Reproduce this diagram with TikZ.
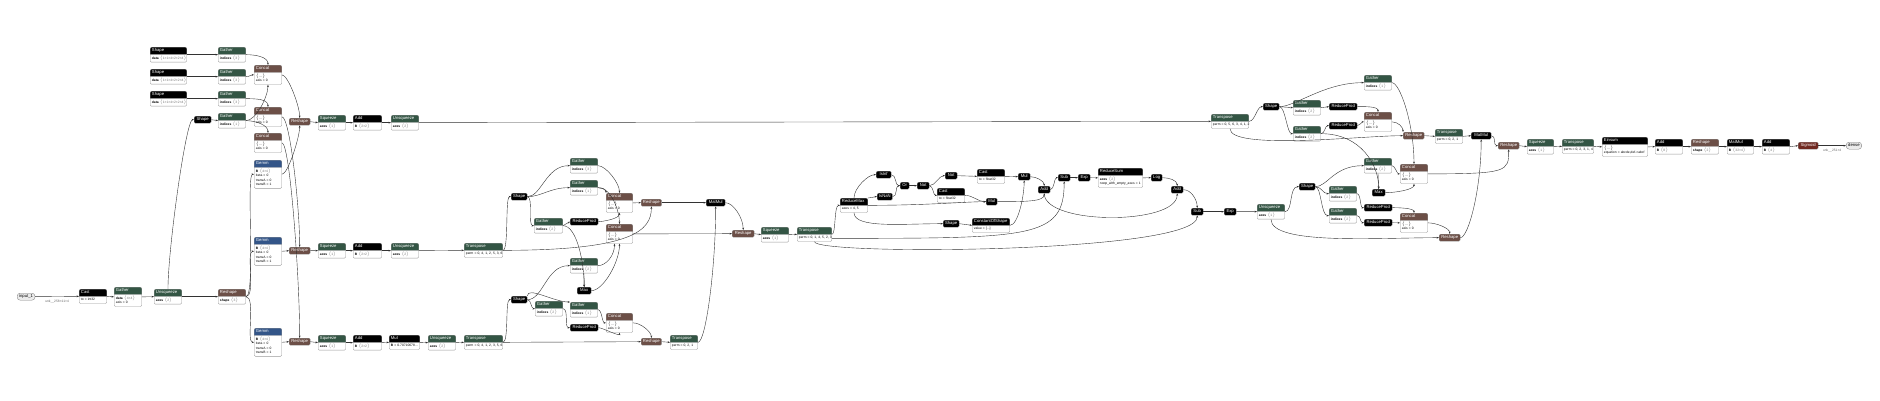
\documentclass[tikz,border=0pt]{standalone}
\usepackage{fontspec}
\setmainfont{Liberation Sans}
\usetikzlibrary{shapes.multipart}
\usetikzlibrary{arrows.meta}

\definecolor{tfgreen}{RGB}{51,85,68}
\definecolor{shbrown}{RGB}{108,79,71}
\definecolor{lyblue}{RGB}{51,85,136}
\definecolor{actred}{RGB}{112,41,33}

\newcommand{\hdr}[1]{{\fontsize{4.2}{4.8}\selectfont\color{white}\strut#1}}
\newcommand{\inp}[2]{\strut\mbox{\textbf{#1} {\color{black!55}$\langle$#2$\rangle$}}}
\newcommand{\atr}[1]{\strut\mbox{#1}}

\tikzset{
	op/.style 2 args={rectangle split, rectangle split parts=2, rectangle split part fill={#1,white},
		draw=black!40, line width=0.35pt, rounded corners=1.2pt, inner xsep=1.8pt, inner ysep=1.1pt,
		anchor=north west, text width=#2, align=left, font=\fontsize{3.3}{4.4}\selectfont},
	hop/.style 2 args={draw=black!40, fill=#1, line width=0.35pt, rounded corners=1.2pt,
		inner xsep=1.8pt, inner ysep=1.1pt, anchor=north west, minimum width=#2},
	io/.style={draw=black!50, fill=black!8, line width=0.35pt, rounded corners=3pt, inner xsep=2pt,
		inner ysep=1.1pt, anchor=north west, font=\fontsize{4.2}{4.8}\selectfont},
	conn/.style={draw=black!80, line width=0.4pt, -{Stealth[length=2.4pt,width=1.8pt]}},
	lbl/.style={font=\fontsize{3.3}{4}\selectfont, text=black!60, inner sep=0pt}
}

\begin{document}
\begin{tikzpicture}[x=1pt,y=-1pt]
	\useasboundingbox (0,0) rectangle (1880,400);

%% Input chain
	\node[io] (input1) at (17,293) {\strut input\_1};
	\node[op={black}{24pt}] (cast0) at (79,289) {\hdr{Cast}\nodepart{two}\atr{to = int32}};
	\node[op={tfgreen}{24pt}] (gather0) at (114,287) {\hdr{Gather}\nodepart{two}\inp{data}{4×4}\\\atr{axis = 0}};
	\node[op={tfgreen}{24pt}] (unsq0) at (154,289) {\hdr{Unsqueeze}\nodepart{two}\inp{axes}{2}};
	\node[op={shbrown}{24pt}] (reshape0) at (218,289) {\hdr{Reshape}\nodepart{two}\inp{shape}{3}};

%% Shape / Gather / Concat
	\node[op={black}{33pt}] (shape1) at (150,47) {\hdr{Shape}\nodepart{two}\inp{data}{1×1×4×2×2×4}};
	\node[op={black}{33pt}] (shape2) at (150,69) {\hdr{Shape}\nodepart{two}\inp{data}{1×1×4×2×2×4}};
	\node[op={black}{33pt}] (shape3) at (150,91) {\hdr{Shape}\nodepart{two}\inp{data}{1×1×4×2×2×4}};
	\node[hop={black}{17pt}] (shape4) at (194,116) {\hdr{Shape}};
	\node[op={tfgreen}{24pt}] (gather1) at (218,47) {\hdr{Gather}\nodepart{two}\inp{indices}{3}};
	\node[op={tfgreen}{24pt}] (gather2) at (218,69) {\hdr{Gather}\nodepart{two}\inp{indices}{3}};
	\node[op={tfgreen}{24pt}] (gather3) at (218,91) {\hdr{Gather}\nodepart{two}\inp{indices}{3}};
	\node[op={tfgreen}{24pt}] (gather4) at (218,113) {\hdr{Gather}\nodepart{two}\inp{indices}{1}};
	\node[op={shbrown}{24pt}] (concat1) at (254,65) {\hdr{Concat}\nodepart{two}\atr{$\langle$…$\rangle$}\\\atr{axis = 0}};
	\node[op={shbrown}{24pt}] (concat2) at (254,107) {\hdr{Concat}\nodepart{two}\atr{$\langle$…$\rangle$}\\\atr{axis = 0}};
	\node[op={shbrown}{24pt}] (concat3) at (254,133) {\hdr{Concat}\nodepart{two}\atr{$\langle$…$\rangle$}\\\atr{axis = 0}};

%% Gemm
	\node[op={lyblue}{24pt}] (gemm1) at (254,160) {\hdr{Gemm}\nodepart{two}\inp{B}{4×4}\\\atr{beta = 0}\\\atr{transA = 0}\\\atr{transB = 1}};
	\node[op={lyblue}{24pt}] (gemm2) at (254,237) {\hdr{Gemm}\nodepart{two}\inp{B}{4×4}\\\atr{beta = 0}\\\atr{transA = 0}\\\atr{transB = 1}};
	\node[op={lyblue}{24pt}] (gemm3) at (254,328) {\hdr{Gemm}\nodepart{two}\inp{B}{4×4}\\\atr{beta = 0}\\\atr{transA = 0}\\\atr{transB = 1}};
	\node[hop={shbrown}{21pt}] (reshapeA) at (289,118) {\hdr{Reshape}};
	\node[hop={shbrown}{21pt}] (reshapeB) at (289,247) {\hdr{Reshape}};
	\node[hop={shbrown}{21pt}] (reshapeC) at (289,338) {\hdr{Reshape}};

%% Q K V rows
	\node[op={tfgreen}{24pt}] (squeezeA) at (318,115) {\hdr{Squeeze}\nodepart{two}\inp{axes}{1}};
	\node[op={black}{25pt}] (addA) at (353,115) {\hdr{Add}\nodepart{two}\inp{B}{2×2}};
	\node[op={tfgreen}{24pt}] (unsqA) at (391,115) {\hdr{Unsqueeze}\nodepart{two}\inp{axes}{2}};
	\node[op={tfgreen}{24pt}] (squeezeB) at (318,243) {\hdr{Squeeze}\nodepart{two}\inp{axes}{1}};
	\node[op={black}{25pt}] (addB) at (353,243) {\hdr{Add}\nodepart{two}\inp{B}{2×2}};
	\node[op={tfgreen}{24pt}] (unsqB) at (391,243) {\hdr{Unsqueeze}\nodepart{two}\inp{axes}{2}};
	\node[op={tfgreen}{35pt}] (transB) at (464,243) {\hdr{Transpose}\nodepart{two}\atr{perm = 0, 4, 1, 2, 5, 3, 6}};
	\node[op={tfgreen}{24pt}] (squeezeC) at (318,335) {\hdr{Squeeze}\nodepart{two}\inp{axes}{1}};
	\node[op={black}{25pt}] (addC) at (353,335) {\hdr{Add}\nodepart{two}\inp{B}{2×2}};
	\node[op={black}{27pt}] (mulC) at (389,335) {\hdr{Mul}\nodepart{two}\atr{\textbf{B} = 0.70710678…}};
	\node[op={tfgreen}{24pt}] (unsqC) at (428,335) {\hdr{Unsqueeze}\nodepart{two}\inp{axes}{2}};
	\node[op={tfgreen}{35pt}] (transC) at (464,335) {\hdr{Transpose}\nodepart{two}\atr{perm = 0, 4, 1, 2, 3, 5, 6}};

%% Upper reshape block
	\node[hop={black}{16pt}] (shapeU) at (511,193) {\hdr{Shape}};
	\node[op={tfgreen}{24pt}] (gatherUa) at (570,158) {\hdr{Gather}\nodepart{two}\inp{indices}{3}};
	\node[op={tfgreen}{24pt}] (gatherUb) at (570,180) {\hdr{Gather}\nodepart{two}\inp{indices}{1}};
	\node[op={tfgreen}{25pt}] (gatherUc) at (534,218) {\hdr{Gather}\nodepart{two}\inp{indices}{2}};
	\node[hop={black}{28pt}] (prodU) at (570,218) {\hdr{ReduceProd}};
	\node[op={shbrown}{23pt}] (concatUa) at (606,193) {\hdr{Concat}\nodepart{two}\atr{$\langle$…$\rangle$}\\\atr{axis = 0}};
	\node[op={shbrown}{23pt}] (concatUb) at (606,224) {\hdr{Concat}\nodepart{two}\atr{$\langle$…$\rangle$}\\\atr{axis = 0}};
	\node[hop={shbrown}{19pt}] (reshapeU) at (641,199) {\hdr{Reshape}};

%% Lower reshape block
	\node[op={tfgreen}{24pt}] (gatherLd) at (570,258) {\hdr{Gather}\nodepart{two}\inp{indices}{2}};
	\node[hop={black}{14pt}] (maxL) at (577,287) {\hdr{Max}};
	\node[hop={black}{16pt}] (shapeL) at (511,296) {\hdr{Shape}};
	\node[op={tfgreen}{24pt}] (gatherLe) at (535,301) {\hdr{Gather}\nodepart{two}\inp{indices}{2}};
	\node[op={tfgreen}{24pt}] (gatherLf) at (570,302) {\hdr{Gather}\nodepart{two}\inp{indices}{1}};
	\node[hop={black}{28pt}] (prodL) at (570,324) {\hdr{ReduceProd}};
	\node[op={shbrown}{23pt}] (concatLc) at (606,313) {\hdr{Concat}\nodepart{two}\atr{$\langle$…$\rangle$}\\\atr{axis = 0}};
	\node[hop={shbrown}{19pt}] (reshapeL) at (641,338) {\hdr{Reshape}};

%% Scores and masking
	\node[op={tfgreen}{24pt}] (transL) at (670,335) {\hdr{Transpose}\nodepart{two}\atr{perm = 0, 2, 1}};
	\node[hop={black}{19pt}] (matmul1) at (706,199) {\hdr{MatMul}};
	\node[hop={shbrown}{22pt}] (reshapeM) at (732,230) {\hdr{Reshape}};
	\node[op={tfgreen}{24pt}] (squeezeM) at (761,227) {\hdr{Squeeze}\nodepart{two}\inp{axes}{1}};
	\node[op={tfgreen}{31pt}] (transM) at (797,227) {\hdr{Transpose}\nodepart{two}\atr{perm = 0, 1, 4, 5, 2, 3}};
	\node[op={black}{24pt}] (rmax) at (840,198) {\hdr{ReduceMax}\nodepart{two}\atr{axes = 4, 5}};
	\node[hop={black}{15pt}] (isinf) at (876,171) {\hdr{IsInf}};
	\node[hop={black}{13pt}] (isnan) at (877,193) {\hdr{IsNaN}};
	\node[hop={black}{9pt}] (lor) at (900,182) {\hdr{Or}};
	\node[hop={black}{12pt}] (not1) at (917,182) {\hdr{Not}};
	\node[hop={black}{12pt}] (not2) at (945,172) {\hdr{Not}};
	\node[op={black}{24pt}] (cast1) at (937,188) {\hdr{Cast}\nodepart{two}\atr{to = float32}};
	\node[hop={black}{16pt}] (shapeS) at (943,220) {\hdr{Shape}};
	\node[op={black}{24pt}] (cast2) at (977,169) {\hdr{Cast}\nodepart{two}\atr{to = float32}};
	\node[op={black}{34pt}] (constS) at (972,218) {\hdr{ConstantOfShape}\nodepart{two}\atr{value = [...]}};
	\node[hop={black}{12pt}] (mul1) at (1018,173) {\hdr{Mul}};
	\node[hop={black}{11pt}] (mul2) at (986,198) {\hdr{Mul}};
	\node[hop={black}{12pt}] (add1) at (1038,186) {\hdr{Add}};

%% Softmax
	\node[hop={black}{12pt}] (sub1) at (1058,174) {\hdr{Sub}};
	\node[hop={black}{12pt}] (exp1) at (1078,174) {\hdr{Exp}};
	\node[op={black}{41pt}] (rsum) at (1098,168) {\hdr{ReduceSum}\nodepart{two}\inp{axes}{2}\\\atr{noop\_with\_empty\_axes = 1}};
	\node[hop={black}{11pt}] (log) at (1151,174) {\hdr{Log}};
	\node[hop={black}{12pt}] (add2) at (1171,186) {\hdr{Add}};
	\node[hop={black}{12pt}] (sub2) at (1191,208) {\hdr{Sub}};
	\node[hop={black}{12pt}] (exp2) at (1224,208) {\hdr{Exp}};
	\node[op={tfgreen}{24pt}] (unsqR) at (1257,204) {\hdr{Unsqueeze}\nodepart{two}\inp{axes}{1}};

%% Value block
	\node[op={tfgreen}{34pt}] (transT1) at (1211,114) {\hdr{Transpose}\nodepart{two}\atr{perm = 0, 5, 6, 3, 4, 1, 2}};
	\node[hop={black}{16pt}] (shapeT) at (1263,103) {\hdr{Shape}};
	\node[op={tfgreen}{24pt}] (gatherT1) at (1364,75) {\hdr{Gather}\nodepart{two}\inp{indices}{1}};
	\node[op={tfgreen}{24pt}] (gatherT2) at (1293,100) {\hdr{Gather}\nodepart{two}\inp{indices}{2}};
	\node[hop={black}{28pt}] (prodT1) at (1329,103) {\hdr{ReduceProd}};
	\node[op={tfgreen}{24pt}] (gatherT3) at (1293,126) {\hdr{Gather}\nodepart{two}\inp{indices}{2}};
	\node[hop={black}{28pt}] (prodT2) at (1329,122) {\hdr{ReduceProd}};
	\node[op={shbrown}{24pt}] (concatT1) at (1364,112) {\hdr{Concat}\nodepart{two}\atr{$\langle$…$\rangle$}\\\atr{axis = 0}};
	\node[hop={shbrown}{21pt}] (reshapeT1) at (1403,132) {\hdr{Reshape}};
	\node[op={tfgreen}{24pt}] (transT2) at (1435,129) {\hdr{Transpose}\nodepart{two}\atr{perm = 0, 2, 1}};
	\node[hop={black}{20pt}] (matmul2) at (1471,132) {\hdr{MatMul}};

	\node[hop={black}{16pt}] (shapeR) at (1299,183) {\hdr{Shape}};
	\node[op={tfgreen}{24pt}] (gatherR4) at (1364,158) {\hdr{Gather}\nodepart{two}\inp{indices}{2}};
	\node[op={shbrown}{24pt}] (concatR2) at (1400,164) {\hdr{Concat}\nodepart{two}\atr{$\langle$…$\rangle$}\\\atr{axis = 0}};
	\node[op={tfgreen}{24pt}] (gatherR5) at (1329,186) {\hdr{Gather}\nodepart{two}\inp{indices}{2}};
	\node[hop={black}{13pt}] (maxR) at (1372,189) {\hdr{Max}};
	\node[hop={black}{28pt}] (prodR3) at (1364,204) {\hdr{ReduceProd}};
	\node[op={tfgreen}{24pt}] (gatherR6) at (1329,208) {\hdr{Gather}\nodepart{two}\inp{indices}{2}};
	\node[hop={black}{28pt}] (prodR4) at (1364,219) {\hdr{ReduceProd}};
	\node[op={shbrown}{24pt}] (concatR3) at (1400,213) {\hdr{Concat}\nodepart{two}\atr{$\langle$…$\rangle$}\\\atr{axis = 0}};
	\node[hop={shbrown}{21pt}] (reshapeR2) at (1439,234) {\hdr{Reshape}};

%% Output chain
	\node[hop={shbrown}{21pt}] (reshapeF) at (1498,142) {\hdr{Reshape}};
	\node[op={tfgreen}{23pt}] (squeezeF) at (1527,139) {\hdr{Squeeze}\nodepart{two}\inp{axes}{1}};
	\node[op={tfgreen}{28pt}] (transF) at (1562,139) {\hdr{Transpose}\nodepart{two}\atr{perm = 0, 2, 3, 1, 4}};
	\node[op={black}{42pt}] (einsum) at (1602,137) {\hdr{Einsum}\nodepart{two}\atr{$\langle$…$\rangle$}\\\atr{equation = abcde,def->abcf}};
	\node[op={black}{24pt}] (addF1) at (1655,139) {\hdr{Add}\nodepart{two}\inp{B}{8}};
	\node[op={shbrown}{24pt}] (reshapeF2) at (1691,139) {\hdr{Reshape}\nodepart{two}\inp{shape}{2}};
	\node[op={black}{23pt}] (matmulF) at (1727,139) {\hdr{MatMul}\nodepart{two}\inp{B}{32×4}};
	\node[op={black}{24pt}] (addF2) at (1762,139) {\hdr{Add}\nodepart{two}\inp{B}{4}};
	\node[hop={actred}{20pt}] (sigmoid) at (1798,142) {\hdr{Sigmoid}};
	\node[io] (dense) at (1846,142) {\strut dense};

	% Lines
	\draw[conn] (input1.east) -- (cast0.west) node[lbl, pos=0.5, below=3pt]{unk\_\_258×11×4};
	\draw[conn] (cast0.east) -- (gather0.west);
	\draw[conn] (gather0.east) -- (unsq0.west);
	\draw[conn] (unsq0.east) -- (reshape0.west);
	\draw[conn] (unsq0.north) .. controls +(up:40pt) and +(left:8pt) .. (shape4.west);
	\draw[conn] (shape1.east) -- (gather1.west);
	\draw[conn] (shape2.east) -- (gather2.west);
	\draw[conn] (shape3.east) -- (gather3.west);
	\draw[conn] (shape4.east) -- (gather4.west);
	\draw[conn] (gather1.east) .. controls +(right:10pt) and +(up:8pt) .. (concat1.north);
	\draw[conn] (gather2.east) .. controls +(right:4pt) and +(left:4pt) .. (concat1.west);
	\draw[conn] (gather4.east) .. controls +(right:10pt) and +(down:12pt) .. (concat1.south);
	\draw[conn] (gather3.east) .. controls +(right:10pt) and +(up:8pt) .. (concat2.north);
	\draw[conn] (gather4.east) .. controls +(right:10pt) and +(up:8pt) .. (concat3.north);
	\draw[conn] (concat1.east) .. controls +(right:6pt) and +(up:12pt) .. (reshapeA.north);
	\draw[conn] (concat2.east) .. controls +(right:8pt) and +(up:40pt) .. (reshapeB.north);
	\draw[conn] (concat3.east) .. controls +(right:8pt) and +(up:60pt) .. (reshapeC.north);
	\draw[conn] (reshape0.east) .. controls +(right:10pt) and +(left:8pt) .. (gemm1.west);
	\draw[conn] (reshape0.east) .. controls +(right:10pt) and +(left:8pt) .. (gemm2.west);
	\draw[conn] (reshape0.east) .. controls +(right:10pt) and +(left:8pt) .. (gemm3.west);
	\draw[conn] (gemm1.east) .. controls +(right:6pt) and +(down:12pt) .. (reshapeA.south);
	\draw[conn] (gemm2.east) -- (reshapeB.west);
	\draw[conn] (gemm3.east) -- (reshapeC.west);

	\draw[conn] (reshapeA.east) -- (squeezeA.west);
	\draw[conn] (squeezeA.east) -- (addA.west);
	\draw[conn] (addA.east) -- (unsqA.west);
	\draw[conn] (unsqA.east) -- (transT1.west);
	\draw[conn] (reshapeB.east) -- (squeezeB.west);
	\draw[conn] (squeezeB.east) -- (addB.west);
	\draw[conn] (addB.east) -- (unsqB.west);
	\draw[conn] (unsqB.east) -- (transB.west);
	\draw[conn] (reshapeC.east) -- (squeezeC.west);
	\draw[conn] (squeezeC.east) -- (addC.west);
	\draw[conn] (addC.east) -- (mulC.west);
	\draw[conn] (mulC.east) -- (unsqC.west);
	\draw[conn] (unsqC.east) -- (transC.west);

	\draw[conn] (transB.east) .. controls +(right:6pt) and +(left:6pt) .. (shapeU.west);
	\draw[conn] (transB.east) .. controls +(right:130pt) and +(down:24pt) .. (reshapeU.south);
	\draw[conn] (shapeU.east) .. controls +(right:14pt) and +(left:24pt) .. (gatherUa.west);
	\draw[conn] (shapeU.east) .. controls +(right:14pt) and +(left:20pt) .. (gatherUb.west);
	\draw[conn] (shapeU.east) .. controls +(right:6pt) and +(left:6pt) .. (gatherUc.west);
	\draw[conn] (gatherUc.east) -- (prodU.west);
	\draw[conn] (gatherUa.east) .. controls +(right:8pt) and +(up:10pt) .. (concatUa.north);
	\draw[conn] (gatherUb.east) .. controls +(right:4pt) and +(up:4pt) .. (concatUa.north west);
	\draw[conn] (prodU.east) .. controls +(right:4pt) and +(down:6pt) .. (concatUa.south);
	\draw[conn] (concatUa.east) -- (reshapeU.west);
	\draw[conn] (gatherUb.east) .. controls +(right:14pt) and +(up:12pt) .. (concatUb.north);
	\draw[conn] (gatherUc.east) .. controls +(right:14pt) and +(up:24pt) .. (maxL.north);
	\draw[conn] (gatherLd.south) -- (maxL.north);
	\draw[conn] (maxL.east) .. controls +(right:12pt) and +(down:18pt) .. (concatUb.south);
	\draw[conn] (gatherLd.east) .. controls +(right:8pt) and +(down:12pt) .. ([xshift=-5pt]concatUb.south);
	\draw[conn] (concatUb.east) -- (reshapeM.west);

	\draw[conn] (transC.east) .. controls +(right:6pt) and +(left:6pt) .. (shapeL.west);
	\draw[conn] (transC.east) -- (reshapeL.west);
	\draw[conn] (shapeL.east) .. controls +(right:16pt) and +(left:24pt) .. (gatherLd.west);
	\draw[conn] (shapeL.east) .. controls +(right:4pt) and +(left:4pt) .. (gatherLe.west);
	\draw[conn] (shapeL.north east) .. controls +(up:10pt) and +(left:16pt) .. (gatherLf.north west);
	\draw[conn] (gatherLe.east) .. controls +(right:6pt) and +(left:6pt) .. (prodL.west);
	\draw[conn] (gatherLf.east) .. controls +(right:4pt) and +(left:4pt) .. (concatLc.west);
	\draw[conn] (prodL.east) .. controls +(right:4pt) and +(down:4pt) .. (concatLc.south);
	\draw[conn] (concatLc.east) .. controls +(right:8pt) and +(up:6pt) .. (reshapeL.north);
	\draw[conn] (reshapeL.east) -- (transL.west);
	\draw[conn] (transL.east) .. controls +(right:8pt) and +(down:60pt) .. (matmul1.south);
	\draw[conn] (reshapeU.east) -- (matmul1.west);
	\draw[conn] (matmul1.east) .. controls +(right:8pt) and +(up:12pt) .. (reshapeM.north);
	\draw[conn] (reshapeM.east) -- (squeezeM.west);
	\draw[conn] (squeezeM.east) -- (transM.west);

	\draw[conn] (transM.east) .. controls +(right:4pt) and +(left:6pt) .. (rmax.west);
	\draw[conn] ([yshift=-4pt]transM.east) .. controls +(right:200pt) and +(down:57pt) .. (sub1.south);
	\draw[conn] (transM.south) .. controls +(down:14pt) and +(down:38pt) .. (sub2.south);
	\draw[conn] (rmax.north) .. controls +(up:10pt) and +(left:8pt) .. (isinf.west);
	\draw[conn] (rmax.north east) .. controls +(right:3pt) and +(left:3pt) .. (isnan.west);
	\draw[conn] (rmax.south) .. controls +(down:16pt) and +(left:40pt) .. (shapeS.west);
	\draw[conn] (rmax.east) .. controls +(right:60pt) and +(left:20pt) .. (mul2.west);
	\draw[conn] (isinf.east) .. controls +(right:5pt) and +(left:5pt) .. (lor.west);
	\draw[conn] (isnan.east) .. controls +(right:5pt) and +(left:5pt) .. (lor.west);
	\draw[conn] (lor.east) -- (not1.west);
	\draw[conn] (not1.east) .. controls +(right:6pt) and +(left:6pt) .. (not2.west);
	\draw[conn] (not1.east) .. controls +(right:4pt) and +(left:4pt) .. (cast1.west);
	\draw[conn] (not2.east) -- (cast2.west);
	\draw[conn] (shapeS.east) -- (constS.west);
	\draw[conn] (cast2.east) -- (mul1.west);
	\draw[conn] (constS.east) .. controls +(right:8pt) and +(down:16pt) .. (mul1.south);
	\draw[conn] (cast1.east) .. controls +(right:8pt) and +(left:8pt) .. (mul2.west);
	\draw[conn] (mul1.east) .. controls +(right:6pt) and +(up:5pt) .. (add1.north);
	\draw[conn] (mul2.east) .. controls +(right:30pt) and +(down:8pt) .. (add1.south);
	\draw[conn] (add1.east) .. controls +(right:4pt) and +(left:4pt) .. (sub1.west);
	\draw[conn] (add1.south) .. controls +(down:32pt) and +(down:32pt) .. (add2.south);
	\draw[conn] (sub1.east) -- (exp1.west);
	\draw[conn] (exp1.east) -- (rsum.west);
	\draw[conn] (rsum.east) -- (log.west);
	\draw[conn] (log.east) .. controls +(right:6pt) and +(up:6pt) .. (add2.north);
	\draw[conn] (add2.east) .. controls +(right:8pt) and +(up:8pt) .. (sub2.north);
	\draw[conn] (sub2.east) -- (exp2.west);
	\draw[conn] (exp2.east) -- (unsqR.west);

	\draw[conn] (transT1.east) .. controls +(right:6pt) and +(left:6pt) .. (shapeT.west);
	\draw[conn] (transT1.south) .. controls +(down:22pt) and +(left:40pt) .. (reshapeT1.west);
	\draw[conn] (shapeT.east) .. controls +(right:16pt) and +(left:40pt) .. (gatherT1.west);
	\draw[conn] (shapeT.east) -- (gatherT2.west);
	\draw[conn] (shapeT.east) .. controls +(right:6pt) and +(left:6pt) .. (gatherT3.west);
	\draw[conn] (gatherT2.east) -- (prodT1.west);
	\draw[conn] (gatherT3.east) .. controls +(right:4pt) and +(left:4pt) .. (prodT2.west);
	\draw[conn] (prodT1.east) .. controls +(right:6pt) and +(up:6pt) .. (concatT1.north);
	\draw[conn] (prodT2.east) .. controls +(right:3pt) and +(left:3pt) .. (concatT1.west);
	\draw[conn] (concatT1.east) .. controls +(right:6pt) and +(up:5pt) .. (reshapeT1.north west);
	\draw[conn] (reshapeT1.east) -- (transT2.west);
	\draw[conn] (transT2.east) -- (matmul2.west);
	\draw[conn] (gatherT1.east) .. controls +(right:8pt) and +(up:40pt) .. (concatR2.north);
	\draw[conn] (gatherT3.east) .. controls +(right:40pt) and +(up:24pt) .. (maxR.north);

	\draw[conn] (unsqR.east) .. controls +(right:8pt) and +(left:10pt) .. (shapeR.west);
	\draw[conn] (unsqR.south) .. controls +(down:26pt) and +(left:60pt) .. (reshapeR2.west);
	\draw[conn] (shapeR.east) .. controls +(right:12pt) and +(left:30pt) .. (gatherR4.west);
	\draw[conn] (shapeR.east) .. controls +(right:6pt) and +(left:6pt) .. (gatherR5.west);
	\draw[conn] (shapeR.east) .. controls +(right:6pt) and +(left:8pt) .. (gatherR6.west);
	\draw[conn] (gatherR4.south) -- (maxR.north);
	\draw[conn] (gatherR4.east) .. controls +(right:3pt) and +(left:3pt) .. (concatR2.west);
	\draw[conn] (maxR.east) .. controls +(right:10pt) and +(down:6pt) .. (concatR2.south);
	\draw[conn] (gatherR5.east) .. controls +(right:4pt) and +(left:4pt) .. (prodR3.west);
	\draw[conn] (gatherR6.east) .. controls +(right:4pt) and +(left:4pt) .. (prodR4.west);
	\draw[conn] (prodR3.east) .. controls +(right:6pt) and +(up:5pt) .. (concatR3.north);
	\draw[conn] (prodR4.east) -- (concatR3.west);
	\draw[conn] (concatR3.east) .. controls +(right:8pt) and +(up:6pt) .. (reshapeR2.north);
	\draw[conn] (reshapeR2.east) .. controls +(right:8pt) and +(down:50pt) .. (matmul2.south);
	\draw[conn] (matmul2.east) .. controls +(right:5pt) and +(left:5pt) .. (reshapeF.west);
	\draw[conn] (concatR2.east) .. controls +(right:80pt) and +(down:22pt) .. (reshapeF.south);

	\draw[conn] (reshapeF.east) -- (squeezeF.west);
	\draw[conn] (squeezeF.east) -- (transF.west);
	\draw[conn] (transF.east) -- (einsum.west);
	\draw[conn] (einsum.east) -- (addF1.west);
	\draw[conn] (addF1.east) -- (reshapeF2.west);
	\draw[conn] (reshapeF2.east) -- (matmulF.west);
	\draw[conn] (matmulF.east) -- (addF2.west);
	\draw[conn] (addF2.east) -- (sigmoid.west);
	\draw[conn] (sigmoid.east) -- (dense.west) node[lbl, pos=0.5, below=3pt]{unk\_\_251×4};
\end{tikzpicture}
\end{document}
